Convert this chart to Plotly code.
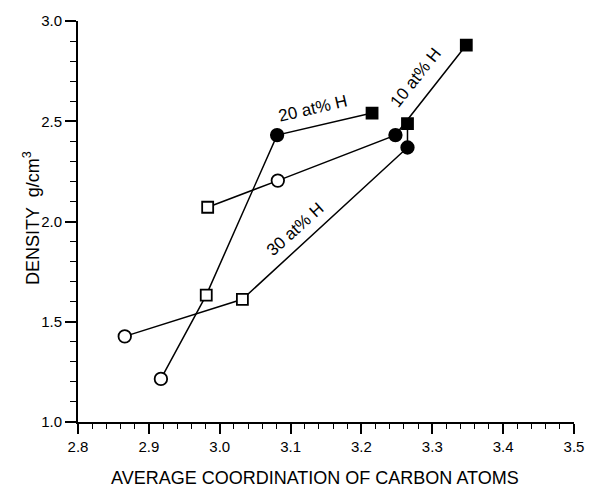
import plotly.graph_objects as go

# Density vs. average carbon coordination for three hydrogen contents.
# Each series: filled square, filled circle, open circle / open square points.
x_10h = [3.348, 3.248, 3.082, 2.983]
y_10h = [2.880, 2.431, 2.204, 2.071]
sym_10h = ["square", "circle", "circle", "square"]
fill_10h = ["#000000", "#000000", "#ffffff", "#ffffff"]

x_20h = [3.215, 3.081, 2.981, 2.917]
y_20h = [2.541, 2.431, 1.633, 1.215]
sym_20h = ["square", "circle", "square", "circle"]
fill_20h = ["#000000", "#000000", "#ffffff", "#ffffff"]

x_30h = [3.265, 3.265, 3.032, 2.866]
y_30h = [2.488, 2.369, 1.612, 1.427]
sym_30h = ["square", "circle", "square", "circle"]
fill_30h = ["#000000", "#000000", "#ffffff", "#ffffff"]

series_labels = ["10 at% H", "20 at% H", "30 at% H"]
label_pos = [(3.277, 2.717, -51.5), (3.132, 2.562, -13), (3.106, 1.962, -42)]

x_ticks = [2.8, 2.9, 3.0, 3.1, 3.2, 3.3, 3.4, 3.5]
y_ticks = [1.0, 1.5, 2.0, 2.5, 3.0]

FONT = "Liberation Sans, Arial, Helvetica, sans-serif"


def marker_sizes(symbols):
    return [11 if s == "square" else 12.5 for s in symbols]


fig = go.Figure()
for xs, ys, syms, fills in [
    (x_10h, y_10h, sym_10h, fill_10h),
    (x_20h, y_20h, sym_20h, fill_20h),
    (x_30h, y_30h, sym_30h, fill_30h),
]:
    fig.add_trace(
        go.Scatter(
            x=xs,
            y=ys,
            mode="lines+markers",
            line=dict(color="#000000", width=1.5),
            marker=dict(
                symbol=syms,
                color=fills,
                size=marker_sizes(syms),
                opacity=1,
                line=dict(color="#000000", width=1.8),
            ),
            showlegend=False,
            cliponaxis=False,
        )
    )

for text, (ax, ay, ang) in zip(series_labels, label_pos):
    fig.add_annotation(
        x=ax, y=ay, xref="x", yref="y", text=text, showarrow=False,
        textangle=ang, font=dict(family=FONT, size=17, color="#000000"),
    )

fig.add_annotation(
    xref="paper", yref="paper", x=0.478, y=-0.14, yanchor="middle",
    text="AVERAGE COORDINATION OF CARBON ATOMS", showarrow=False,
    font=dict(family=FONT, size=18, color="#000000"),
)
fig.add_annotation(
    xref="paper", yref="paper", x=-0.0935, y=0.508, xanchor="center",
    text="DENSITY  g/cm<sup>3</sup>", showarrow=False, textangle=-90,
    font=dict(family=FONT, size=18, color="#000000"),
)

axis_common = dict(
    showgrid=False, zeroline=False, showline=True, linecolor="#000000",
    linewidth=2, ticks="outside", tickcolor="#000000", tickwidth=1.5,
    tickfont=dict(family=FONT, size=15, color="#000000"), tickformat=".1f",
    mirror=False,
)

fig.update_xaxes(
    range=[2.8, 3.5], tickvals=x_ticks, ticklen=10,
    minor=dict(dtick=0.02, ticklen=5, tickcolor="#000000", tickwidth=1, ticks="outside"),
    **axis_common,
)
fig.update_yaxes(
    range=[1.0, 3.0], tickvals=y_ticks, ticklen=11,
    minor=dict(dtick=0.1, ticklen=6, tickcolor="#000000", tickwidth=1, ticks="outside"),
    **axis_common,
)

fig.update_layout(
    width=596, height=487,
    margin=dict(l=78, r=12, t=18, b=65),
    plot_bgcolor="white", paper_bgcolor="white",
    font=dict(family=FONT, color="#000000"),
)

fig.write_html("out.html")
